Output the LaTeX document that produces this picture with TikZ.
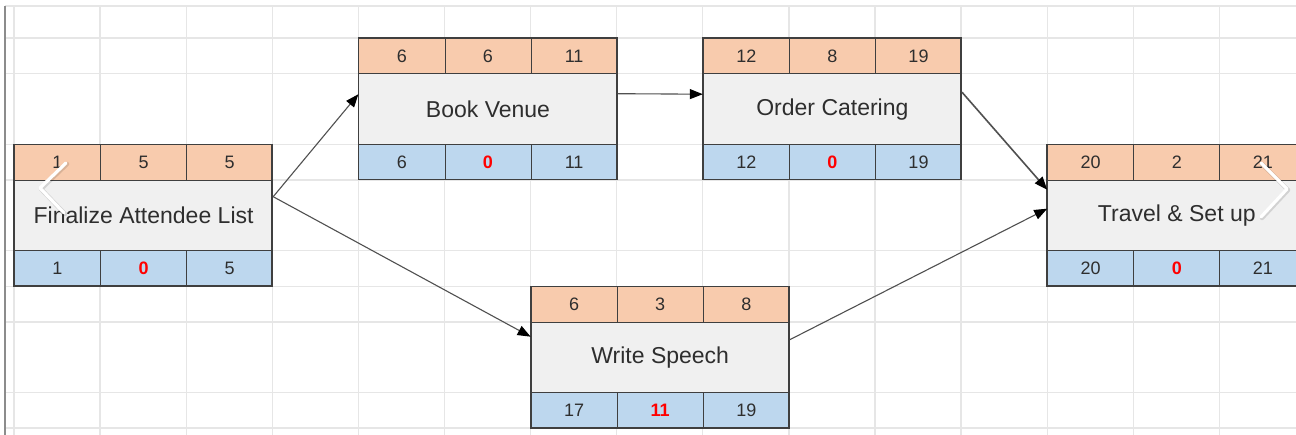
\documentclass[tikz,border=0pt]{standalone}
\usepackage{fontspec}
\setmainfont{Liberation Sans}
\usetikzlibrary{arrows.meta}
\definecolor{cOrange}{HTML}{F8CBAD}
\definecolor{cGrey}{HTML}{F0F0F0}
\definecolor{cBlue}{HTML}{BDD7EE}
\definecolor{cBorder}{HTML}{3F3F3F}
\definecolor{cText}{HTML}{2E2E2E}
\definecolor{cGrid}{HTML}{E6E6E6}
\definecolor{cLine}{HTML}{505050}
\definecolor{cRed}{HTML}{FF0000}
\tikzset{
  cell/.style={draw=cBorder, line width=0.9pt, inner sep=0pt, anchor=north west,
    minimum width=86.1pt, minimum height=35.5pt, text=cText,
    font=\fontsize{18}{21}\selectfont},
  topcell/.style={cell, fill=cOrange},
  botcell/.style={cell, fill=cBlue},
  midcell/.style={draw=cBorder, line width=0.9pt, inner sep=0pt, anchor=north west,
    minimum width=258.3pt, minimum height=70.5pt, fill=cGrey, text=cText,
    font=\fontsize{23}{27}\selectfont},
  conn/.style={draw=cLine, line width=1.1pt, -{Triangle[length=13pt,width=10pt,color=black,fill=black]}},
  gridline/.style={draw=cGrid, line width=1.3pt},
  chevron/.style={draw=white, line width=3.2pt, line cap=round, line join=round},
  chevshadow/.style={draw=black, opacity=0.12, line width=4.5pt, line cap=round, line join=round}
}
\newcommand{\actbox}[9]{%
  \begin{scope}[shift={#2}]
    \node[topcell] (#1-t1) at (0,0) {#4};
    \node[topcell] (#1-t2) at (86.1,0) {#5};
    \node[topcell] (#1-t3) at (172.2,0) {#6};
    \node[midcell] (#1) at (0,35.5) {#3};
    \node[botcell] (#1-b1) at (0,106) {#7};
    \node[botcell] (#1-b2) at (86.1,106) {\textcolor{cRed}{\bfseries #8}};
    \node[botcell] (#1-b3) at (172.2,106) {#9};
    \draw[cBorder, line width=1.8pt] (0,0) rectangle (258.3,141.5);
  \end{scope}}
\begin{document}
\begin{tikzpicture}[x=1pt, y=-1pt]
\useasboundingbox (0,0) rectangle (1296,435);
\clip (0,0) rectangle (1296,435);
\fill[white] (0,0) rectangle (1296,435);
% spreadsheet grid
\foreach \k in {0,...,15} {
  \draw[gridline] ({14+86.1*\k},6) -- ({14+86.1*\k},435);
}
\foreach \r in {6,38,73.5,144.5,180,250.5,286.5,322,392.5,428} {
  \draw[gridline] (5,\r) -- (1296,\r);
}
\draw[draw=black!45, line width=1.3pt] (5,6) -- (5,435);
% activity boxes
\actbox{fin}{(14,144.5)}{Finalize Attendee List}{1}{5}{5}{1}{0}{5}
\actbox{book}{(358.4,38)}{Book Venue}{6}{6}{11}{6}{0}{11}
\actbox{order}{(702.8,38)}{Order Catering}{12}{8}{19}{12}{0}{19}
\actbox{write}{(530.6,286.5)}{Write Speech}{6}{3}{8}{17}{11}{19}
\actbox{travel}{(1047.2,144.5)}{Travel \& Set up}{20}{2}{21}{20}{0}{21}
% connectors
\draw[conn] ([yshift=19pt]fin.east) -- ([yshift=15pt]book.west);
\draw[conn] ([yshift=19pt]fin.east) -- ([yshift=21pt]write.west);
\draw[conn] ([yshift=15.5pt]book.east) -- ([yshift=15pt]order.west);
\draw[conn, line width=1.6pt] ([yshift=17pt]order.east) -- ([yshift=26pt]travel.west);
\draw[conn] ([yshift=18pt]write.east) -- ([yshift=7pt]travel.west);
% carousel chevrons
\draw[chevshadow] (67,164) -- (41,189) -- (65,214);
\draw[chevron] (66,163) -- (40,188) -- (64,213);
\draw[chevshadow] (1262,164) -- (1288,190) -- (1262,218);
\draw[chevron] (1261,163) -- (1287,189) -- (1261,217);
\end{tikzpicture}
\end{document}
